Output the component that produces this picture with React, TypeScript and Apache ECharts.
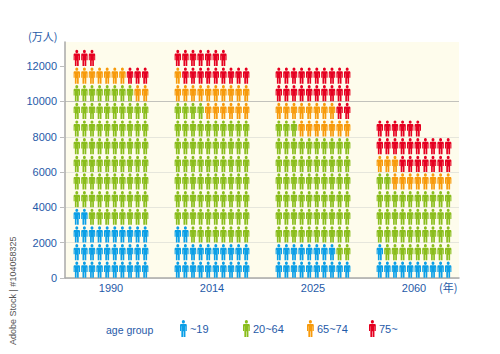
import React, { useEffect, useRef } from "react";
import * as echarts from "echarts";

const years = ["1990", "2014", "2025", "2060"];
const ageGroups = ["~19", "20~64", "65~74", "75~"];
const under19 = [32, 22, 18, 11];
const age20to64 = [76, 72, 65, 41];
const age65to74 = [9, 17, 15, 11];
const age75plus = [6, 16, 22, 23];
const yTicks = [0, 2000, 4000, 6000, 8000, 10000, 12000];
const groupValues = [under19, age20to64, age65to74, age75plus];
const groupColors = ["#0b9fe6", "#8abd1c", "#f79a0b", "#e50020"];
const PER_ROW = 10;
const ROW_VALUE = 1000;
const AXIS_MAX = 13370;

const personPath =
  "M20 0C25.5 0 29 4.5 29 10.5C29 16.5 25.5 21 20 21C14.5 21 11 16.5 11 10.5C11 4.5 14.5 0 20 0Z" +
  "M7 23L33 23C37 23 40 26 40 30L40 64L33.5 64L33.5 37L32 37L32 100L21.5 100L21.5 66L18.5 66L18.5 100L8 100L8 37L6.5 37L6.5 64L0 64L0 30C0 26 3 23 7 23Z";

function personsFor(groupIndex: number) {
  const out: number[][] = [];
  years.forEach((_, yearIndex) => {
    let start = 0;
    for (let g = 0; g < groupIndex; g++) start += groupValues[g][yearIndex];
    for (let i = 0; i < groupValues[groupIndex][yearIndex]; i++) {
      const pos = start + i;
      out.push([yearIndex, Math.floor(pos / PER_ROW) * ROW_VALUE, pos % PER_ROW]);
    }
  });
  return out;
}

export default function App() {
  const ref = useRef<HTMLDivElement>(null);
  useEffect(() => {
    const chart = echarts.init(ref.current!, null, { renderer: "svg" });
    const font = "'Liberation Sans', Arial, sans-serif";
    const textColor = "#1f5aa8";
    const iconX = [180, 243, 307, 369];
    chart.setOption({
      animation: false,
      backgroundColor: "#ffffff",
      textStyle: { fontFamily: font, color: textColor },
      grid: [
        { left: 65, top: 42, width: 394, height: 236, show: true, backgroundColor: "#fefcec", borderWidth: 0, containLabel: false },
        { left: 60.5, top: 42, width: 404, height: 236, containLabel: false },
      ],
      xAxis: [
        { type: "value", gridIndex: 0, min: 0, max: 1, axisLine: { show: true, onZero: false, lineStyle: { color: "#a9a9a9", width: 1.5 } }, axisTick: { show: false }, axisLabel: { show: false }, splitLine: { show: false } },
        { type: "category", gridIndex: 1, data: years, axisLine: { show: false }, axisTick: { show: false }, axisLabel: { color: textColor, fontSize: 11, fontFamily: font, margin: 4 }, splitLine: { show: false } },
      ],
      yAxis: [
        {
          type: "value", gridIndex: 0, min: 0, max: AXIS_MAX, interval: 2000,
          axisLine: { show: true, lineStyle: { color: "#a9a9a9", width: 1.5 } },
          axisTick: { show: true, length: 5, customValues: yTicks, lineStyle: { color: "#bdbdbd" } },
          axisLabel: { color: textColor, fontSize: 11, fontFamily: font, margin: 8, customValues: yTicks, formatter: (v: number) => String(v) },
          splitLine: { show: true, showMaxLine: false, lineStyle: { width: 1, color: ["#e6e6dc", "#e6e6dc", "#e6e6dc", "#e6e6dc", "#e6e6dc", "#c2c2bc", "#e6e6dc"] } },
        },
        { type: "value", gridIndex: 1, min: 0, max: AXIS_MAX, show: false },
      ],
      legend: ageGroups.map((name, i) => ({
        data: [name],
        left: iconX[i],
        top: 320,
        orient: "horizontal",
        padding: 0,
        itemWidth: 7,
        itemHeight: 17,
        itemGap: 0,
        icon: "path://" + personPath,
        selectedMode: false,
        textStyle: { color: textColor, fontSize: 11, fontFamily: font, padding: [0, 0, 0, -2] },
      })),
      graphic: [
        { type: "text", left: 106, top: 324, style: { text: "age group", fill: textColor, font: "10.5px " + font } },
        { type: "text", left: 28, top: 30.5, style: { text: "(万人)", fill: textColor, font: "11px 'Noto Sans CJK JP', sans-serif" } },
        { type: "text", left: 439, top: 281, style: { text: "(年)", fill: textColor, font: "11px 'Noto Sans CJK JP', sans-serif" } },
        { type: "text", x: 8, y: 345, rotation: Math.PI / 2, style: { text: "Adobe Stock | #104058325", fill: "#555555", font: "9px " + font } },
      ],
      series: ageGroups.map((name, g) => ({
        name,
        type: "custom",
        xAxisIndex: 1,
        yAxisIndex: 1,
        coordinateSystem: "cartesian2d",
        itemStyle: { color: groupColors[g] },
        encode: { x: 0, y: 1 },
        data: personsFor(g),
        renderItem: (_: unknown, api: any) => {
          const base = api.coord([api.value(0), api.value(1)]);
          const cx = base[0] + (api.value(2) - 4.5) * 7.6;
          return {
            type: "path",
            shape: { pathData: personPath, x: cx - 3.2, y: base[1] - 16.4, width: 6.4, height: 16.2, layout: "cover" },
            style: { fill: groupColors[g] },
          };
        },
      })),
    });
    return () => chart.dispose();
  }, []);
  return <div ref={ref} style={{ position: "fixed", left: 0, top: 0, width: 500, height: 354 }} />;
}
